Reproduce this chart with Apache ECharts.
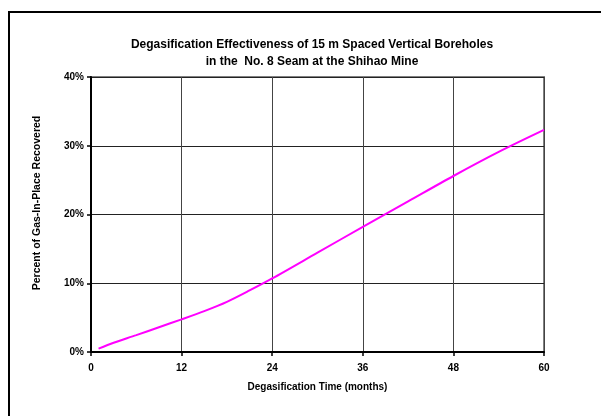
<!DOCTYPE html>
<html>
<head>
<meta charset="utf-8">
<script src="https://cdn.jsdelivr.net/npm/echarts@6/dist/echarts.min.js"></script>
<style>
  html, body { margin: 0; padding: 0; background: #fff; }
  #chart { width: 601px; height: 416px; }
</style>
</head>
<body>
<div id="chart"></div>
<script>
// degasification time, months
var months = [1, 3, 6, 9, 12, 15, 18, 21, 24, 30, 36, 42, 48, 54, 60];
// percent of gas-in-place recovered
var recovered = [0.5, 1.35, 2.45, 3.6, 4.75, 5.95, 7.3, 8.95, 10.7, 14.45, 18.2, 21.9, 25.6, 29.1, 32.3];

var titleLines = ['Degasification Effectiveness of 15 m Spaced Vertical Boreholes', 'in the  No. 8 Seam at the Shihao Mine'];
var xName = 'Degasification Time (months)';
var yName = 'Percent of Gas-In-Place Recovered';

var myChart = echarts.init(document.getElementById('chart'));
var font = 'Liberation Sans, Arial, sans-serif';

var option = {
    animation: false,
    textStyle: { fontFamily: font },
    title: {
        text: titleLines.join('\n'),
        left: 307,
        top: 31,
        textAlign: 'center',
        textStyle: { fontSize: 12, fontWeight: 'bold', color: '#000', lineHeight: 17, fontFamily: font }
    },
    graphic: [
        {
            // outer frame (only left & top edges show in the picture)
            type: 'rect',
            shape: { x: 9, y: 12, width: 620, height: 430 },
            style: { fill: null, stroke: '#000', lineWidth: 2 },
            silent: true
        },
        {
            type: 'text',
            x: 37,
            y: 203,
            rotation: Math.PI / 2,
            style: {
                text: yName,
                font: 'bold 10.5px ' + font,
                fill: '#000',
                align: 'center',
                verticalAlign: 'middle'
            }
        }
    ],
    grid: {
        left: 91,
        right: 57,
        top: 77,
        bottom: 64,
        show: true,
        borderColor: '#808080',
        borderWidth: 2,
        backgroundColor: 'transparent'
    },
    xAxis: {
        type: 'value',
        min: 0,
        max: 60,
        interval: 12,
        name: xName,
        nameLocation: 'middle',
        nameGap: 30,
        nameTextStyle: { fontSize: 10, fontWeight: 'bold', color: '#000', fontFamily: font },
        axisLine: { lineStyle: { color: '#000', width: 2 } },
        axisTick: { length: 4, lineStyle: { color: '#000', width: 1.5 } },
        axisLabel: { fontSize: 10, fontWeight: 'bold', color: '#000', margin: 11 },
        splitLine: { show: true, lineStyle: { color: '#444', width: 1 } }
    },
    yAxis: {
        type: 'value',
        min: 0,
        max: 40,
        interval: 10,
        axisLine: { lineStyle: { color: '#000', width: 2 } },
        axisTick: { length: 4, lineStyle: { color: '#000', width: 1.5 } },
        axisLabel: { fontSize: 10, fontWeight: 'bold', color: '#000', margin: 7, formatter: '{value}%' },
        splitLine: { show: true, lineStyle: { color: '#222', width: 1 } }
    },
    series: [
        {
            type: 'line',
            smooth: 0.3,
            showSymbol: false,
            data: months.map(function (m, i) { return [m, recovered[i]]; }),
            lineStyle: { color: '#ff00ff', width: 2 },
            itemStyle: { color: '#ff00ff' }
        }
    ]
};

option && myChart.setOption(option);
</script>
</body>
</html>
